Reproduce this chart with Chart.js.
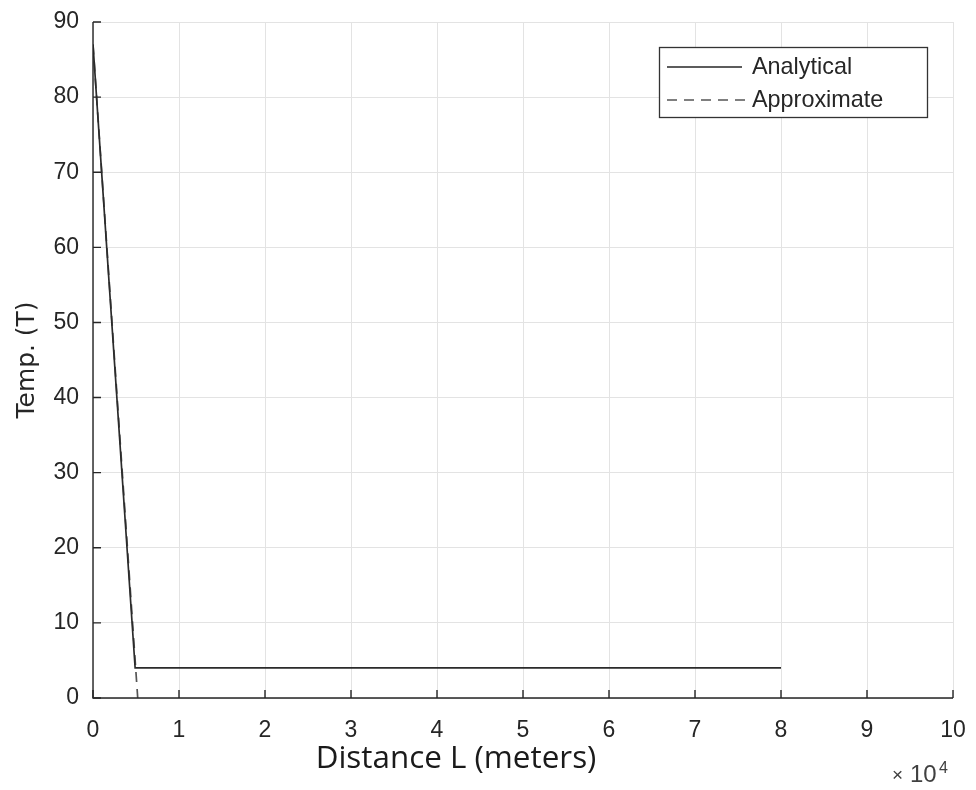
<!DOCTYPE html>
<html><head><meta charset="utf-8">
<script src="https://cdn.jsdelivr.net/npm/chart.js@4.4.1/dist/chart.umd.min.js"></script>
<style>html,body{margin:0;padding:0;background:#fff}#wrap{width:976px;height:790px}</style>
</head><body><div id="wrap"><canvas id="c" width="976" height="790"></canvas></div>
<script>
const analyticalX = [0, 4900, 80000];
const analyticalY = [87, 4, 4];
const approxX = [0, 5200];
const approxY = [87, 0];
const xTicks = [0,1,2,3,4,5,6,7,8,9,10];
const yTicks = [0,10,20,30,40,50,60,70,80,90];
const seriesNames = ['Analytical', 'Approximate'];
const xTitle = 'Distance L (meters)';
const yTitle = 'Temp. (T)';

const FONT = '"Liberation Sans", Arial, sans-serif';
const XTF = '"Open Sans", sans-serif';
const YTF = '"DejaVu Sans", sans-serif';
const L=93, R=953, T=22, B=698;

const mctx = document.createElement('canvas').getContext('2d');
function fitSize(text, family, target){
  mctx.font = '100px ' + family;
  return Math.round(100 * target / mctx.measureText(text).width * 10) / 10;
}
const xTitleSize = fitSize(xTitle, XTF, 281);
const yTitleSize = fitSize(yTitle, YTF, 117);
const legSize = fitSize(seriesNames[0], FONT, 100);

const tickPlugin = {
  id:'ticksIn',
  afterDraw(ch){
    const c=ch.ctx, xs=ch.scales.x, ys=ch.scales.y;
    c.save();
    c.strokeStyle='#262626'; c.lineWidth=1.4;
    c.beginPath();
    c.moveTo(xs.left, ys.top); c.lineTo(xs.left, ys.bottom); c.lineTo(xs.right, ys.bottom);
    c.stroke();
    c.beginPath();
    yTicks.forEach(v=>{const p=ys.getPixelForValue(v); c.moveTo(xs.left,p); c.lineTo(xs.left+8,p);});
    xTicks.forEach(v=>{const p=xs.getPixelForValue(v*10000); c.moveTo(p,ys.bottom); c.lineTo(p,ys.bottom-8);});
    c.stroke();
    // x axis title (offset left of centre as in the original)
    c.fillStyle='#1a1a1a'; c.font=xTitleSize+'px '+XTF;
    c.textBaseline='alphabetic'; c.textAlign='center';
    c.fillText(xTitle, 456, 768);
    // exponent label
    c.fillStyle='#404040';
    c.textAlign='left';
    c.font='19px '+FONT;
    c.fillText('\u00d7', 892, 781);
    c.font='24px '+FONT;
    c.fillText('10', 910, 782);
    c.font='16px '+FONT;
    c.fillText('4', 939, 773);
    // legend
    const bx=659, by=47, bw=268, bh=70;
    c.fillStyle='#fff'; c.fillRect(bx,by,bw,bh);
    c.strokeStyle='#333'; c.lineWidth=1.3; c.strokeRect(bx+0.5,by+0.5,bw,bh);
    c.lineWidth=1.6;
    c.strokeStyle='#262626'; c.setLineDash([]);
    c.beginPath(); c.moveTo(667,67); c.lineTo(742,67); c.stroke();
    c.strokeStyle='#555'; c.setLineDash([10,7]);
    c.beginPath(); c.moveTo(667,100); c.lineTo(745,100); c.stroke();
    c.setLineDash([]);
    c.fillStyle='#262626'; c.font=legSize+'px '+FONT; c.textBaseline='middle';
    c.fillText(seriesNames[0], 752, 68);
    c.fillText(seriesNames[1], 752, 101);
    c.restore();
  }
};

new Chart(document.getElementById('c'), {
  type:'scatter',
  data:{datasets:[
    {label:seriesNames[0], data:analyticalX.map((x,i)=>({x, y:analyticalY[i]})), showLine:true, borderColor:'#2b2b2b', borderWidth:1.7, pointRadius:0, tension:0},
    {label:seriesNames[1], data:approxX.map((x,i)=>({x, y:approxY[i]})), showLine:true, borderColor:'#555', borderDash:[10,7], borderWidth:1.7, pointRadius:0, tension:0}
  ]},
  options:{
    responsive:false, animation:false, devicePixelRatio:1,
    layout:{autoPadding:false, padding:{left:13, right:976-R, top:T, bottom:25}},
    plugins:{legend:{display:false}, tooltip:{enabled:false}},
    scales:{
      x:{type:'linear', min:0, max:100000,
        afterBuildTicks(s){s.ticks=xTicks.map(v=>({value:v*10000}));},
        afterFit(s){s.height=790-B-25; s.paddingLeft=0; s.paddingRight=0;},
        ticks:{callback:v=>String(v/10000), color:'#262626', font:{family:FONT,size:23}, padding:19, maxRotation:0},
        grid:{color:'#e3e3e3', lineWidth:1, drawTicks:false},
        border:{display:false},
        title:{display:false}
      },
      y:{type:'linear', min:0, max:90,
        afterBuildTicks(s){s.ticks=yTicks.map(v=>({value:v}));},
        afterFit(s){s.width=L-13; s.paddingTop=0; s.paddingBottom=0;},
        ticks:{color:'#262626', font:{family:FONT,size:23}, padding:14},
        grid:{color:'#e3e3e3', lineWidth:1, drawTicks:false},
        border:{display:false},
        title:{display:true, text:yTitle, color:'#262626', font:{family:YTF,size:yTitleSize}, padding:{top:0,bottom:0}}
      }
    }
  },
  plugins:[tickPlugin]
});
</script></body></html>
